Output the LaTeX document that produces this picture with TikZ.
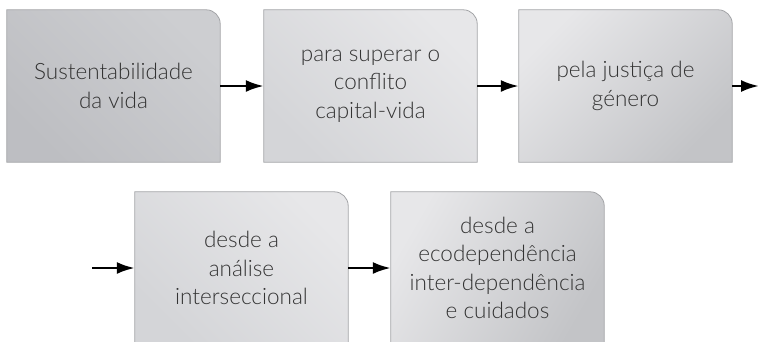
\documentclass[tikz,border=0pt]{standalone}
\usepackage{fontspec}
\setmainfont{Lato}[UprightFont={* Light}]
\usetikzlibrary{arrows.meta}

\definecolor{edgegray}{HTML}{A3A4A7}
\definecolor{txtgray}{HTML}{333333}
\definecolor{shadeA}{HTML}{BDBEC2}
\definecolor{shadeB}{HTML}{CDCED1}
\definecolor{shadeC}{HTML}{D4D5D8}
\definecolor{shadeD}{HTML}{E7E7E9}
\definecolor{shadeE}{HTML}{C3C4C7}

\tikzset{
    stepbox/.style={minimum width=213pt, minimum height=152pt, inner sep=0pt,
        align=center, text=txtgray, font=\fontsize{22.5}{28.5}\selectfont},
    boxedge/.style={draw=edgegray, line width=0.8pt},
    flow/.style={line width=2.6pt, -{Latex[length=18pt,width=12pt]}},
}

% box outline: only the upper right corner is rounded
\newcommand{\boxshape}[2]{%
    \shade[boxedge,#2] (#1.south west) -- (#1.north west)
        -- ([xshift=-14pt]#1.north east) arc[start angle=90, end angle=0, radius=14pt]
        -- (#1.south east) -- cycle;
}

\begin{document}
\begin{tikzpicture}[x=1pt, y=-1pt]
    \useasboundingbox (0,0) rectangle (760,341);
    \clip (0,0) rectangle (760,341);

    \node[stepbox] (vida) at (113.5, 86) {};
    \node[stepbox] (conflito) at (370.5, 86) {};
    \node[stepbox] (genero) at (625.5, 86) {};
    \node[stepbox] (analise) at (241.5, 268) {};
    \node[stepbox] (ecodep) at (497.5, 268) {};

    \boxshape{vida}{bottom color=shadeA, top color=shadeB, shading angle=-45}
    \boxshape{conflito}{bottom color=shadeC, top color=shadeD, shading angle=-45}
    \boxshape{genero}{bottom color=shadeE, top color=shadeD, shading angle=45}
    \boxshape{analise}{bottom color=shadeC, top color=shadeD, shading angle=-45}
    \boxshape{ecodep}{bottom color=shadeE, top color=shadeD, shading angle=60}

    \node[stepbox] at (vida) {Sustentabilidade\\da vida};
    \node[stepbox] at (conflito) {para superar o\\conflito\\capital-vida};
    \node[stepbox] at (genero) {pela justiça de\\género};
    \node[stepbox] at (analise) {desde a\\análise\\interseccional};
    \node[stepbox] at (ecodep) {desde a\\ecodependência\\inter-dependência\\e cuidados};

    \coordinate (outR) at (759, 86);
    \coordinate (inL) at (92, 268);

    \draw[flow] (vida.east) -- (conflito.west);
    \draw[flow] (conflito.east) -- (genero.west);
    \draw[flow] (genero.east) -- (outR);
    \draw[flow] (inL) -- (analise.west);
    \draw[flow] (analise.east) -- (ecodep.west);
\end{tikzpicture}
\end{document}
